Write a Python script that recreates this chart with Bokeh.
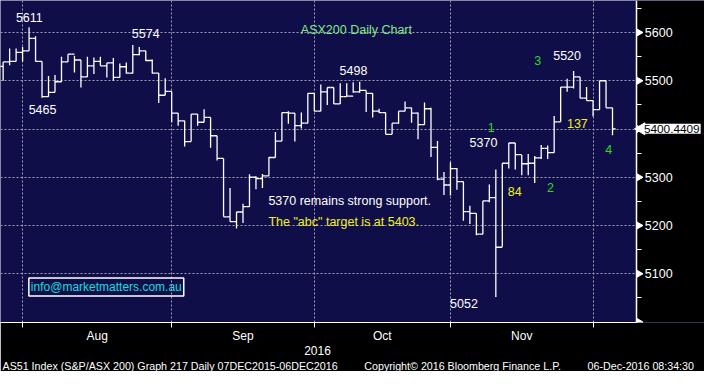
import math
import pandas as pd
from bokeh.plotting import figure
from bokeh.models import (FixedTicker, LinearAxis, Label, Range1d, ColumnDataSource,
                          Title, BoxAnnotation)
from bokeh.embed import file_html
from bokeh.resources import INLINE

# ---------------- data (ASX200 daily bars) ----------------
dates = pd.bdate_range("2016-07-27", "2016-12-06")
first_open = 5530
high = [5539, 5567, 5567, 5570, 5611, 5592, 5540, 5510, 5512, 5550,
        5555, 5552, 5543, 5550, 5548, 5550, 5537, 5547, 5536, 5538,
        5574, 5570, 5562, 5544, 5516, 5505, 5478, 5433, 5417, 5431,
        5431, 5441, 5424, 5386, 5339, 5278, 5228, 5245, 5306, 5302,
        5307, 5342, 5394, 5434, 5437, 5433, 5434, 5474, 5474, 5492,
        5486, 5486, 5495, 5495, 5497, 5498, 5480, 5474, 5442, 5434,
        5412, 5437, 5457, 5444, 5434, 5455, 5444, 5375, 5311, 5331,
        5319, 5291, 5241, 5225, 5251, 5285, 5316, 5329, 5371, 5371,
        5346, 5348, 5344, 5367, 5366, 5427, 5487, 5504, 5520, 5508,
        5487, 5459, 5500, 5500, 5444]
low = [5500, 5532, 5540, 5540, 5562, 5540, 5465, 5467, 5476, 5498,
       5539, 5517, 5486, 5508, 5514, 5531, 5507, 5500, 5507, 5515,
       5515, 5553, 5541, 5515, 5454, 5470, 5414, 5407, 5364, 5374,
       5407, 5414, 5361, 5335, 5218, 5208, 5194, 5205, 5239, 5275,
       5278, 5303, 5341, 5375, 5411, 5374, 5401, 5412, 5437, 5437,
       5450, 5452, 5452, 5468, 5475, 5475, 5435, 5424, 5433, 5389,
       5389, 5411, 5437, 5413, 5379, 5409, 5342, 5294, 5263, 5262,
       5274, 5210, 5203, 5180, 5182, 5248, 5052, 5156, 5318, 5316,
       5304, 5304, 5288, 5338, 5338, 5351, 5415, 5477, 5484, 5464,
       5459, 5426, 5440, 5444, 5387]
close = [5539, 5540, 5559, 5562, 5588, 5540, 5467, 5476, 5498, 5539,
         5555, 5543, 5508, 5531, 5540, 5531, 5537, 5507, 5529, 5516,
         5554, 5562, 5542, 5516, 5470, 5478, 5433, 5417, 5374, 5431,
         5414, 5424, 5386, 5339, 5218, 5208, 5228, 5239, 5300, 5297,
         5303, 5341, 5375, 5434, 5433, 5407, 5412, 5474, 5437, 5477,
         5486, 5452, 5467, 5468, 5477, 5480, 5474, 5437, 5434, 5389,
         5412, 5437, 5444, 5433, 5409, 5442, 5362, 5296, 5284, 5318,
         5291, 5229, 5225, 5182, 5251, 5258, 5155, 5329, 5371, 5347,
         5328, 5329, 5340, 5360, 5351, 5415, 5487, 5487, 5508, 5464,
         5459, 5440, 5500, 5444, 5400.4409]
open_ = [first_open] + close[:-1]

price_ticks = [5000, 5100, 5200, 5300, 5400, 5500, 5600]
price_minor = [5050, 5150, 5250, 5350, 5450, 5550, 5650]
price_labels = ["5600", "5500", "5300", "5200", "5100"]
grid_levels = [5100, 5200, 5300, 5400, 5500, 5600]
last_price_text = "5400.4409"
year_label = "2016"

annotations = [
    # text, ref x, ref y, colour, align
    ("5611", 29.5, 18, "white", "center"),
    ("5574", 148.5, 34.5, "white", "center"),
    ("5465", 43, 113, "white", "center"),
    ("ASX200 Daily Chart", 364, 31, "#86e886", "center"),
    ("5498", 361, 72.5, "white", "center"),
    ("3", 549.5, 62.5, "#22dd22", "center"),
    ("5520", 579.5, 57.5, "white", "center"),
    ("1", 502, 132, "#22dd22", "center"),
    ("5370", 494, 147.5, "white", "center"),
    ("137", 590, 127.5, "#f0f020", "center"),
    ("4", 622, 155, "#22dd22", "center"),
    ("84", 526, 198.5, "#f0f020", "center"),
    ("2", 562.5, 195, "#22dd22", "center"),
    ("5052", 474, 315, "white", "center"),
    ("5370 remains strong support.", 274, 209, "white", "left"),
    ('The "abc" target is at 5403.', 274, 230, "#f0f020", "left"),
]
footer = ["AS51 Index (S&P/ASX 200) Graph 217  Daily 07DEC2015-06DEC2016",
          "Copyright\u00a9 2016 Bloomberg Finance L.P.",
          "06-Dec-2016 08:34:30"]
email = "info@marketmatters.com.au"

# ---------------- layout ----------------
W, H = 704, 371
REF_W, REF_H = 720, 387
sx, sy = W / REF_W, H / REF_H
BAR0, STEP = 2.7, 6.63           # ref px of first bar and spacing
PLOT_R, PLOT_B = 650, 335        # ref px of the price axis and the time axis
def X(px):
    return (px - BAR0) / STEP
def Y(py):
    return 5600 - (py - 33.3) * 1.992
def fs(px):
    return f"{px * sy:.1f}px"

idx = list(range(len(dates)))
months = pd.Series(dates.month)
month_starts = [i for i in idx if i == 0 or months[i] != months[i - 1]][1:]
month_centers = [(a + b) / 2 for a, b in zip(month_starts[:-1], month_starts[1:])]
month_names = [dates[s].strftime("%b") for s in month_starts[:-1]]

FONT = "Liberation Sans"
NAVY = "#100e48"

p = figure(width=W, height=H, output_backend="svg", toolbar_location=None,
           x_range=Range1d(X(0), X(REF_W)),
           y_range=Range1d(Y(PLOT_B), Y(0)),
           y_axis_location="right",
           min_border_left=0, min_border_top=0, min_border_right=0,
           min_border_bottom=0,
           background_fill_color=NAVY, border_fill_color="black",
           outline_line_color=None)

# grids
p.xgrid.ticker = FixedTicker(ticks=month_starts)
p.ygrid.ticker = FixedTicker(ticks=grid_levels)
for g in (p.xgrid[0], p.ygrid[0]):
    g.grid_line_color = "#a0a0b4"
    g.grid_line_dash = "2 2"
    g.grid_line_width = 1

# black area right of the price axis (covers the grid there)
p.add_layout(BoxAnnotation(left=X(PLOT_R), fill_color="black", fill_alpha=1,
                           line_color=None, level="underlay"))

# bottom axis: month labels, ticks at month starts
xa = p.xaxis[0]
xa.bounds = (X(0), X(PLOT_R))
xa.ticker = FixedTicker(ticks=month_centers, minor_ticks=month_starts)
xa.major_label_overrides = {c: n for c, n in zip(month_centers, month_names)}
xa.major_tick_in = 0
xa.major_tick_out = 0
xa.minor_tick_in = 0
xa.minor_tick_out = 5
xa.minor_tick_line_color = "white"
xa.axis_line_color = "white"
xa.axis_line_width = 1.2
xa.major_label_text_color = "white"
xa.major_label_text_font = FONT
xa.major_label_text_font_size = fs(12.5)
xa.major_label_standoff = 1

ya = LinearAxis(ticker=FixedTicker(ticks=[month_starts[2] + 0.5]),
                major_label_overrides={month_starts[2] + 0.5: year_label},
                axis_line_color=None, major_tick_line_color=None,
                minor_tick_line_color=None, major_tick_out=0, major_tick_in=0,
                minor_tick_out=0, minor_tick_in=0, major_label_standoff=0,
                major_label_text_color="white", major_label_text_font=FONT,
                major_label_text_font_size=fs(12.5))
p.add_layout(ya, "below")

NB = "\u00a0"
p.add_layout(Title(text=footer[0] + NB * 9 + footer[1] + NB * 9 + footer[2],
                   align="left", text_color="white", text_font=FONT,
                   text_font_style="normal", text_font_size="10.7px",
                   standoff=0, offset=2), "below")

# price axis, pinned at the edge of the plot area
pa = p.yaxis[0]
pa.fixed_location = X(PLOT_R)
pa.bounds = (Y(PLOT_B), Y(0))
pa.ticker = FixedTicker(ticks=price_ticks, minor_ticks=price_minor)
pa.major_label_overrides = {v: "" for v in price_ticks}
pa.major_label_standoff = 0
pa.major_tick_in = 0
pa.major_tick_out = 2
pa.major_tick_line_color = "white"
pa.minor_tick_in = 0
pa.minor_tick_out = 5
pa.minor_tick_line_color = "white"
pa.axis_line_color = "white"
pa.axis_line_width = 1.5

# triangular major tick marks and price labels
tick_src = ColumnDataSource(dict(x=[X(PLOT_R + 3)] * len(price_ticks), y=price_ticks))
p.scatter(x="x", y="y", source=tick_src, marker="triangle", size=7,
          angle=-math.pi / 2, fill_color="white", line_color="white")
for t in price_labels:
    p.add_layout(Label(x=X(659), y=float(t), text=t, text_color="white",
                       text_align="left", text_baseline="middle", text_font=FONT,
                       text_font_size=fs(13)))

# OHLC bars
src = ColumnDataSource(dict(x=idx, xl=[i - 0.5 for i in idx], xr=[i + 0.5 for i in idx],
                            o=open_, h=high, l=low, c=close))
p.segment(x0="x", y0="l", x1="x", y1="h", source=src, line_color="white", line_width=1.3)
p.segment(x0="xl", y0="o", x1="x", y1="o", source=src, line_color="white", line_width=1.3)
p.segment(x0="x", y0="c", x1="xr", y1="c", source=src, line_color="white", line_width=1.3)

# text annotations
for text, rx, ry, col, al in annotations:
    p.add_layout(Label(x=X(rx), y=Y(ry), text=text, text_color=col, text_align=al,
                       text_baseline="middle", text_font=FONT, text_font_size=fs(13)))

p.add_layout(Label(x=X(29), y=Y(298), text=email, text_color="#10dede",
                   text_align="left", text_baseline="middle", text_font=FONT,
                   text_font_size=fs(12.5), border_line_color="white",
                   border_line_width=1.5, padding=2))

# last price tag: arrow + white box
tag_src = ColumnDataSource(dict(x=[X(PLOT_R + 5.5)], y=[close[-1]]))
p.scatter(x="x", y="y", source=tag_src, marker="triangle", size=12,
          angle=math.pi / 2, fill_color="white", line_color="white")
p.add_layout(Label(x=X(657), y=close[-1], text=last_price_text, text_color="black",
                   background_fill_color="white", text_align="left",
                   text_baseline="middle", text_font=FONT, text_font_size="11.8px",
                   padding=1))

open("out.html", "w").write(file_html(p, INLINE))
